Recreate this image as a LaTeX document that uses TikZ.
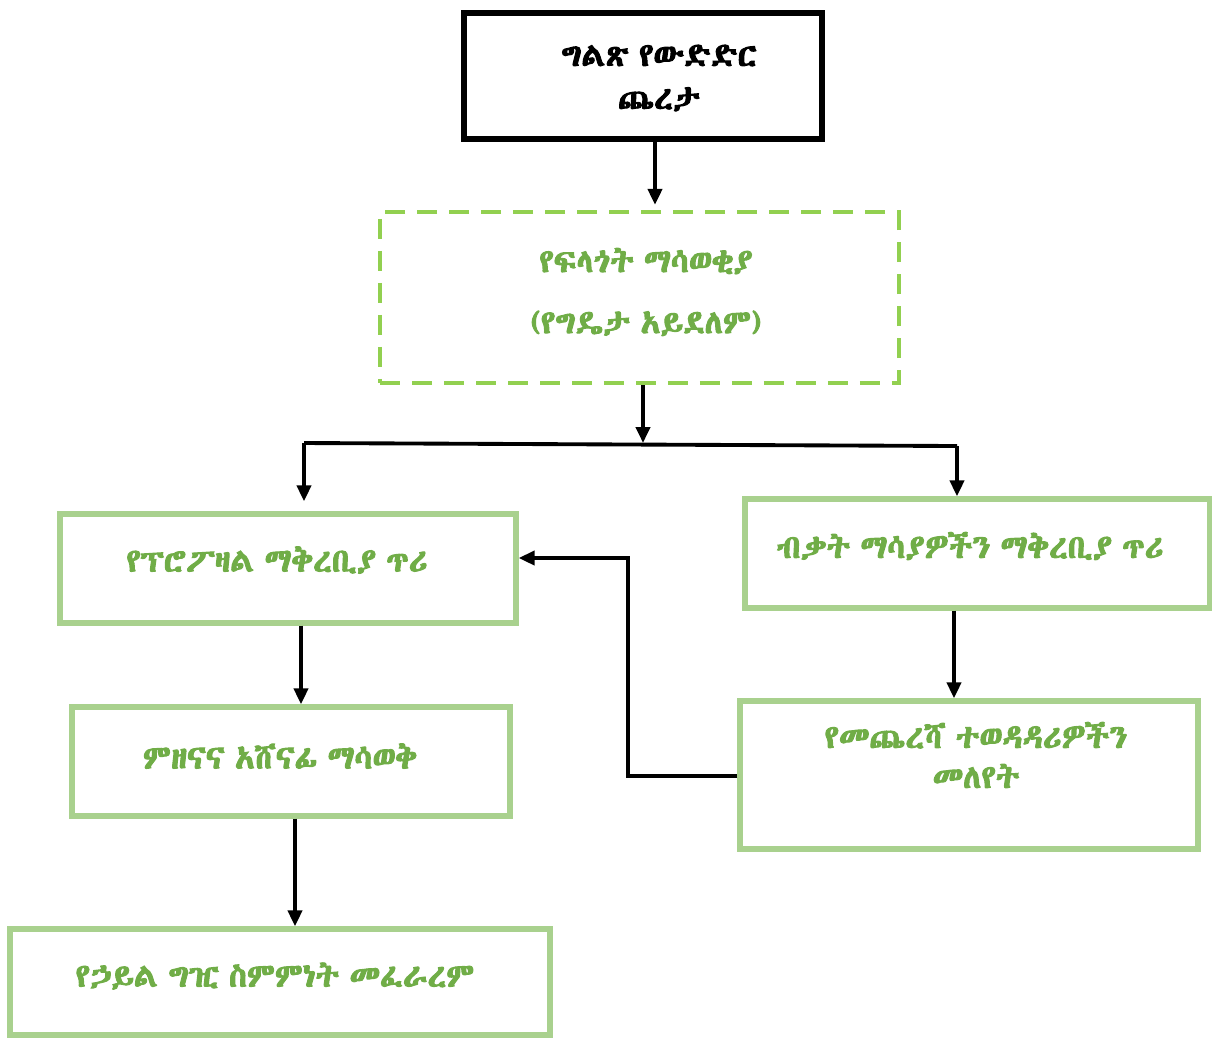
\documentclass[tikz,border=0pt]{standalone}
\usepackage{fontspec}
\usetikzlibrary{calc,arrows.meta}
\IfFontExistsTF{Abyssinica SIL}{\newfontfamily\ethfont[Script=Ethiopic,AutoFakeBold=3,WordSpace=0.7]{Abyssinica SIL}}{%
\IfFontExistsTF{FreeSerif}{\newfontfamily\ethfont[AutoFakeBold=3.2,WordSpace=0.7]{FreeSerif}}{%
\newfontfamily\ethfont{DejaVu Sans}}}
\definecolor{leafgreen}{HTML}{70AD47}
\definecolor{palegreen}{HTML}{A9D18E}
\definecolor{limegreen}{HTML}{92D050}
\tikzset{
  stagebox/.style={draw=palegreen, line width=1.5pt, rectangle, inner sep=0pt},
  stagetext/.style={text=leafgreen, align=center, font=\ethfont\bfseries\fontsize{9.3}{11.4}\selectfont},
  flow/.style={line width=1.1pt, -{Triangle[length=0.16cm,width=0.14cm]}},
}
\begin{document}
\begin{tikzpicture}
		%%%%% START %%%%%
		\useasboundingbox (0,0) rectangle (12.12,-10.38);
		
		% top box
		\node[draw=black, line width=1.7pt, minimum width=3.58cm, minimum height=1.26cm] (open) at (6.43,-0.76) {};
		\node[align=center, font=\ethfont\bfseries\fontsize{9.3}{12.2}\selectfont] (opentxt) at (6.59,-0.78) {ግልጽ የውድድር\\ጨረታ};
		
		% optional notice
		\node[draw=limegreen, line width=1.2pt, dash pattern=on 0.2cm off 0.12cm, minimum width=5.19cm, minimum height=1.71cm] (notice) at (6.395,-2.975) {};
		\node[stagetext, font=\ethfont\bfseries\fontsize{9.3}{17.4}\selectfont] (noticetxt) at (6.46,-2.92) {የፍላጎት ማሳወቂያ\\(የግዴታ አይደለም)};
		
		% left branch
		\node[stagebox, minimum width=4.56cm, minimum height=1.09cm] (proposal) at (2.88,-5.685) {};
		\node[stagetext] (proposaltxt) at (2.77,-5.6) {የፕሮፖዛል ማቅረቢያ ጥሪ};
		
		\node[stagebox, minimum width=4.38cm, minimum height=1.09cm] (evaluate) at (2.91,-7.615) {};
		\node[stagetext] (evaluatetxt) at (2.8,-7.56) {ምዘናና አሸናፊ ማሳወቅ};
		
		\node[stagebox, minimum width=5.40cm, minimum height=1.06cm] (agreement) at (2.80,-9.82) {};
		\node[stagetext] (agreementtxt) at (2.75,-9.76) {የኃይል ግዢ ስምምነት መፈራረም};
		
		% right branch
		\node[stagebox, minimum width=4.65cm, minimum height=1.09cm] (qualify) at (9.775,-5.535) {};
		\node[stagetext] (qualifytxt) at (9.7,-5.46) {ብቃት ማሳያዎችን ማቅረቢያ ጥሪ};
		
		\node[stagebox, minimum width=4.58cm, minimum height=1.48cm] (shortlist) at (9.69,-7.75) {};
		\node[stagetext] (shortlisttxt) at (9.76,-7.55) {የመጨረሻ ተወዳዳሪዎችን\\መለየት};
		
		% connectors
		\coordinate (split) at (6.43,-4.43);
		\coordinate (splitL) at (3.04,-4.43);
		\coordinate (splitR) at (9.57,-4.46);
		\coordinate (loop) at (6.28,-7.76);
		
		\draw[flow, shorten >=0.05cm] (open.south -| 6.55,0) -- (notice.north -| 6.55,0);
		\draw[flow] (notice.south -| split) -- (split);
		\draw[line width=1.1pt] (splitL) -- (splitR);
		\draw[flow, shorten >=0.1cm] (splitL) -- (proposal.north -| splitL);
		\draw[flow] (splitR) -- (qualify.north -| splitR);
		\draw[flow] (proposal.south -| 3.01,0) -- (evaluate.north -| 3.01,0);
		\draw[flow] (evaluate.south -| 2.95,0) -- (agreement.north -| 2.95,0);
		\draw[flow] (qualify.south -| 9.54,0) -- (shortlist.north -| 9.54,0);
		\draw[flow] (shortlist.west |- loop) -- (loop) |- (proposal.east |- 0,-5.58);
		
		%%%%% END %%%%%
\end{tikzpicture}
\end{document}
